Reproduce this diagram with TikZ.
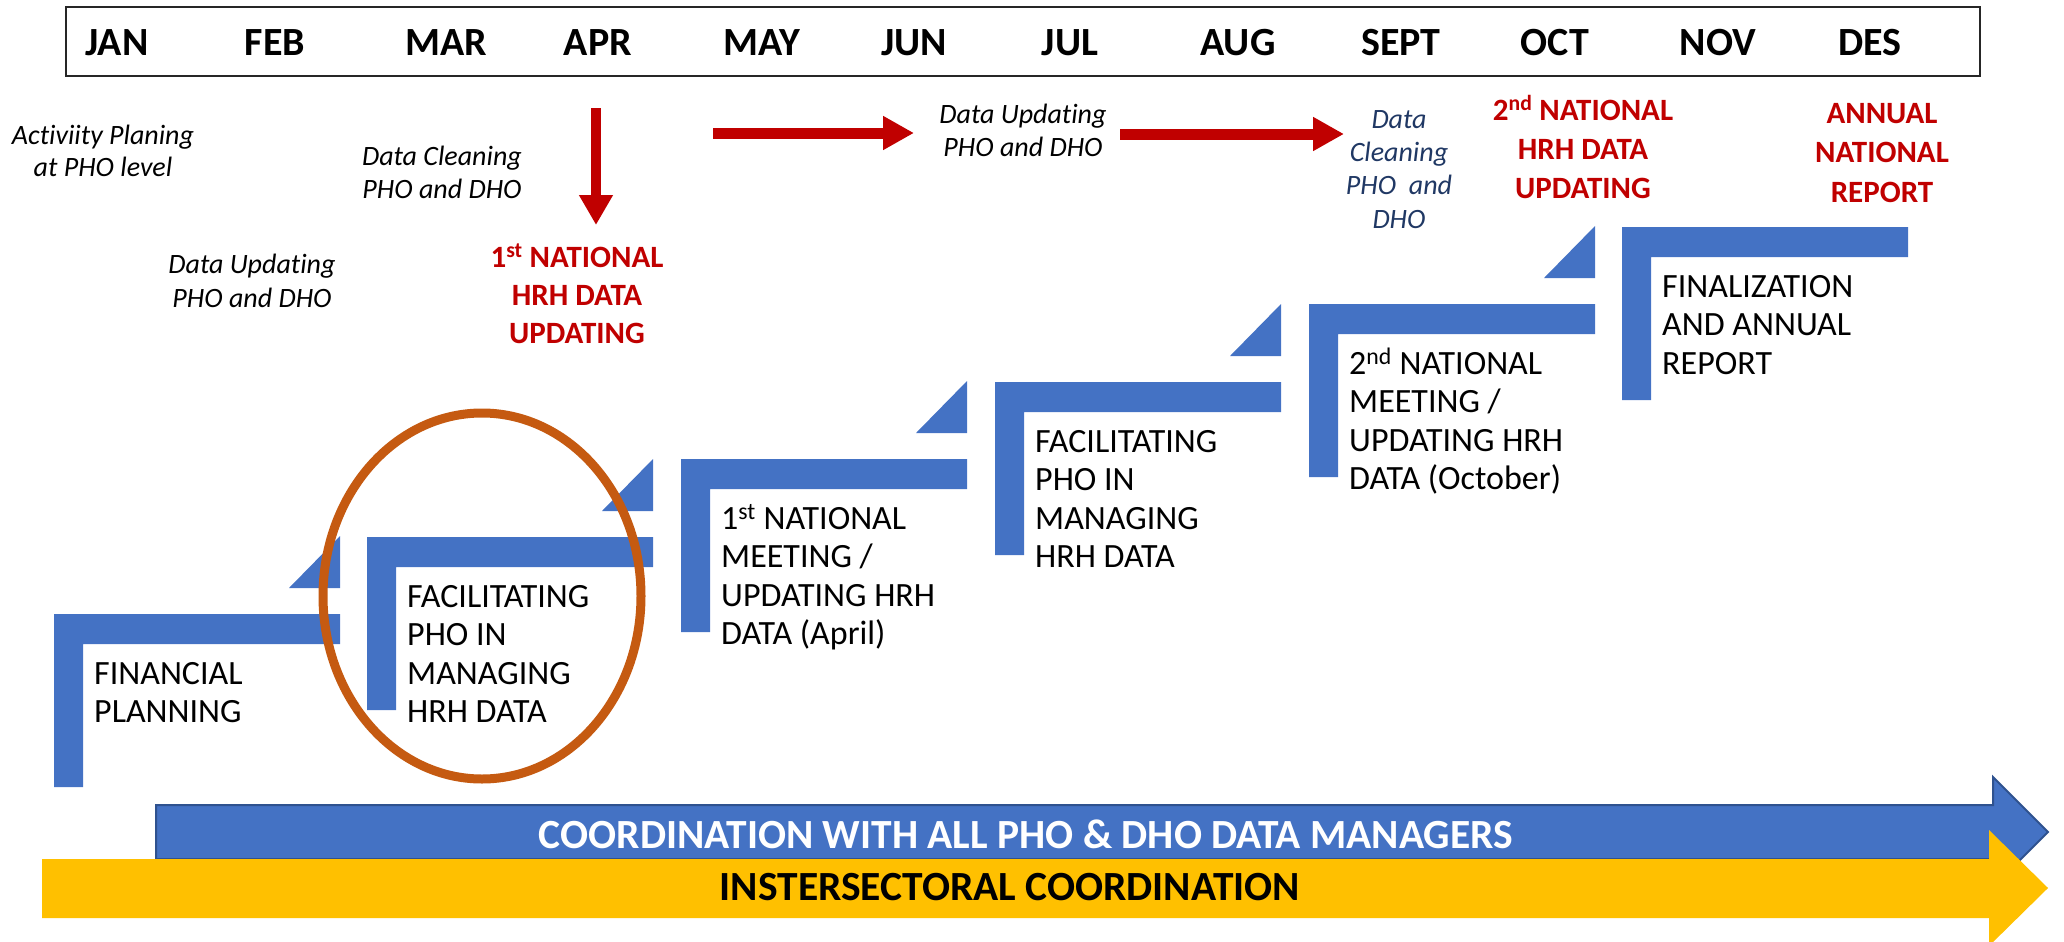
\documentclass[tikz,border=0pt]{standalone}
\usepackage{fontspec}
\setmainfont{Carlito}[Ligatures=NoCommon]
\usetikzlibrary{arrows.meta}
\definecolor{stepblue}{HTML}{4472C4}
\definecolor{edgeblue}{HTML}{2F528F}
\definecolor{hyellow}{HTML}{FFC000}
\definecolor{hred}{HTML}{C00000}
\definecolor{horange}{HTML}{C55A11}
\definecolor{hnavy}{HTML}{203864}
\newcommand\fsz[2]{\fontsize{#1pt}{#2pt}\selectfont}
\begin{document}
\begin{tikzpicture}[x=1pt,y=-1pt,
  month/.style={font=\bfseries\fsz{40}{48}, anchor=base, inner sep=0pt},
  note/.style={font=\itshape\fsz{28}{33}, align=center, anchor=base, inner sep=0pt},
  redt/.style={font=\bfseries\fsz{31}{39}, text=hred, align=center, anchor=base, inner sep=0pt},
  steptext/.style={font=\fsz{34}{38.5}, align=left, anchor=base west, inner sep=0pt},
  bartext/.style={font=\bfseries\fsz{41.5}{48}, anchor=base, inner sep=0pt},
  redarrow/.style={draw=hred, line width=10pt, -{Triangle[length=31pt,width=32pt]}},
  stepfill/.style={fill=stepblue}
]
\useasboundingbox (0,0) rectangle (2064,942);
% month bar
\node[draw=black!85, line width=2pt, minimum width=1914pt, minimum height=69pt, inner sep=0pt] (mbox) at (1023,41.5) {};
\foreach \m/\x in {JAN/117,FEB/275,MAR/446,APR/598,MAY/762,JUN/914,JUL/1070,AUG/1238,SEPT/1401,OCT/1555,NOV/1718,DES/1870}
  \node[month] (m\m) at (\x,56) {\m};
% notes (anchor = baseline of the last line)
\node[note, font=\itshape\fsz{28}{32}] (act) at (103,176) {Activiity Planing\\at PHO level};
\node[note] (dc1) at (442,198) {Data Cleaning\\PHO and DHO};
\node[note, font=\itshape\fsz{28}{34}] (du1) at (252,307) {Data Updating\\PHO and DHO};
\node[note] (du2) at (1023,156) {Data Updating\\PHO and DHO};
\node[note, text=hnavy, font=\itshape\fsz{28}{33.3}] (dc2) at (1399,228) {Data\\Cleaning\\PHO~ and\\DHO};
\node[redt, font=\bfseries\fsz{31}{38}] (nat1) at (577,343) {1\textsuperscript{st} NATIONAL\\HRH DATA\\UPDATING};
\node[redt] (nat2) at (1583,198) {2\textsuperscript{nd} NATIONAL\\HRH DATA\\UPDATING};
\node[redt, font=\bfseries\fsz{31}{39.5}] (ann) at (1882,202) {ANNUAL\\NATIONAL\\REPORT};
% red arrows
\coordinate (d1) at (596,108);
\coordinate (d2) at (596,225);
\coordinate (h1a) at (713,133);
\coordinate (h1b) at (914,133);
\coordinate (h2a) at (1120,134);
\coordinate (h2b) at (1344,134);
\draw[redarrow, line width=9.5pt, -{Triangle[length=30pt,width=32pt]}] (d1) -- (d2);
\draw[redarrow, line width=11pt] (h1a) -- (h1b);
\draw[redarrow, line width=11pt] (h2a) -- (h2b);
% steps
\foreach \L/\T in {54/614,367/537,681/459,995/382,1309/304,1622/227}
  \fill[stepfill] (\L,\T) -- ++(286,0) -- ++(0,30) -- ++(-257,0) -- ++(0,143) -- ++(-29,0) -- cycle;
\foreach \L/\T in {54/614,367/537,681/459,995/382,1309/304}
  \fill[stepfill] (\L+286,\T-78) -- (\L+286,\T-26) -- (\L+235,\T-26) -- cycle;
\node[steptext] (s1) at (94,722.5) {FINANCIAL\\PLANNING};
\node[steptext] (s2) at (407,722.5) {FACILITATING\\PHO IN\\MANAGING\\HRH DATA};
\node[steptext] (s3) at (721,644.5) {1\textsuperscript{st} NATIONAL\\MEETING /\\UPDATING HRH\\DATA (April)};
\node[steptext] (s4) at (1035,567.5) {FACILITATING\\PHO IN\\MANAGING\\HRH DATA};
\node[steptext] (s5) at (1349,489.5) {2\textsuperscript{nd} NATIONAL\\MEETING /\\UPDATING HRH\\DATA (October)};
\node[steptext] (s6) at (1662,374) {FINALIZATION\\AND ANNUAL\\REPORT};
% highlight ellipse
\draw[horange, line width=9pt] (482,596) ellipse [x radius=159, y radius=183];
% bottom arrows
\draw[fill=stepblue, draw=edgeblue, line width=2pt] (156,805) -- (1993,805) -- (1993,777) -- (2048,832) -- (1993,887) -- (1993,859) -- (156,859) -- cycle;
\fill[hyellow] (42,859) -- (1989,859) -- (1989,830) -- (2048,888) -- (1989,946) -- (1989,918) -- (42,918) -- cycle;
\node[bartext, text=white] (coord) at (1026,848) {COORDINATION WITH ALL PHO \& DHO DATA MANAGERS};
\node[bartext, text=black] (inter) at (1010,900) {INSTERSECTORAL COORDINATION};
\end{tikzpicture}
\end{document}
